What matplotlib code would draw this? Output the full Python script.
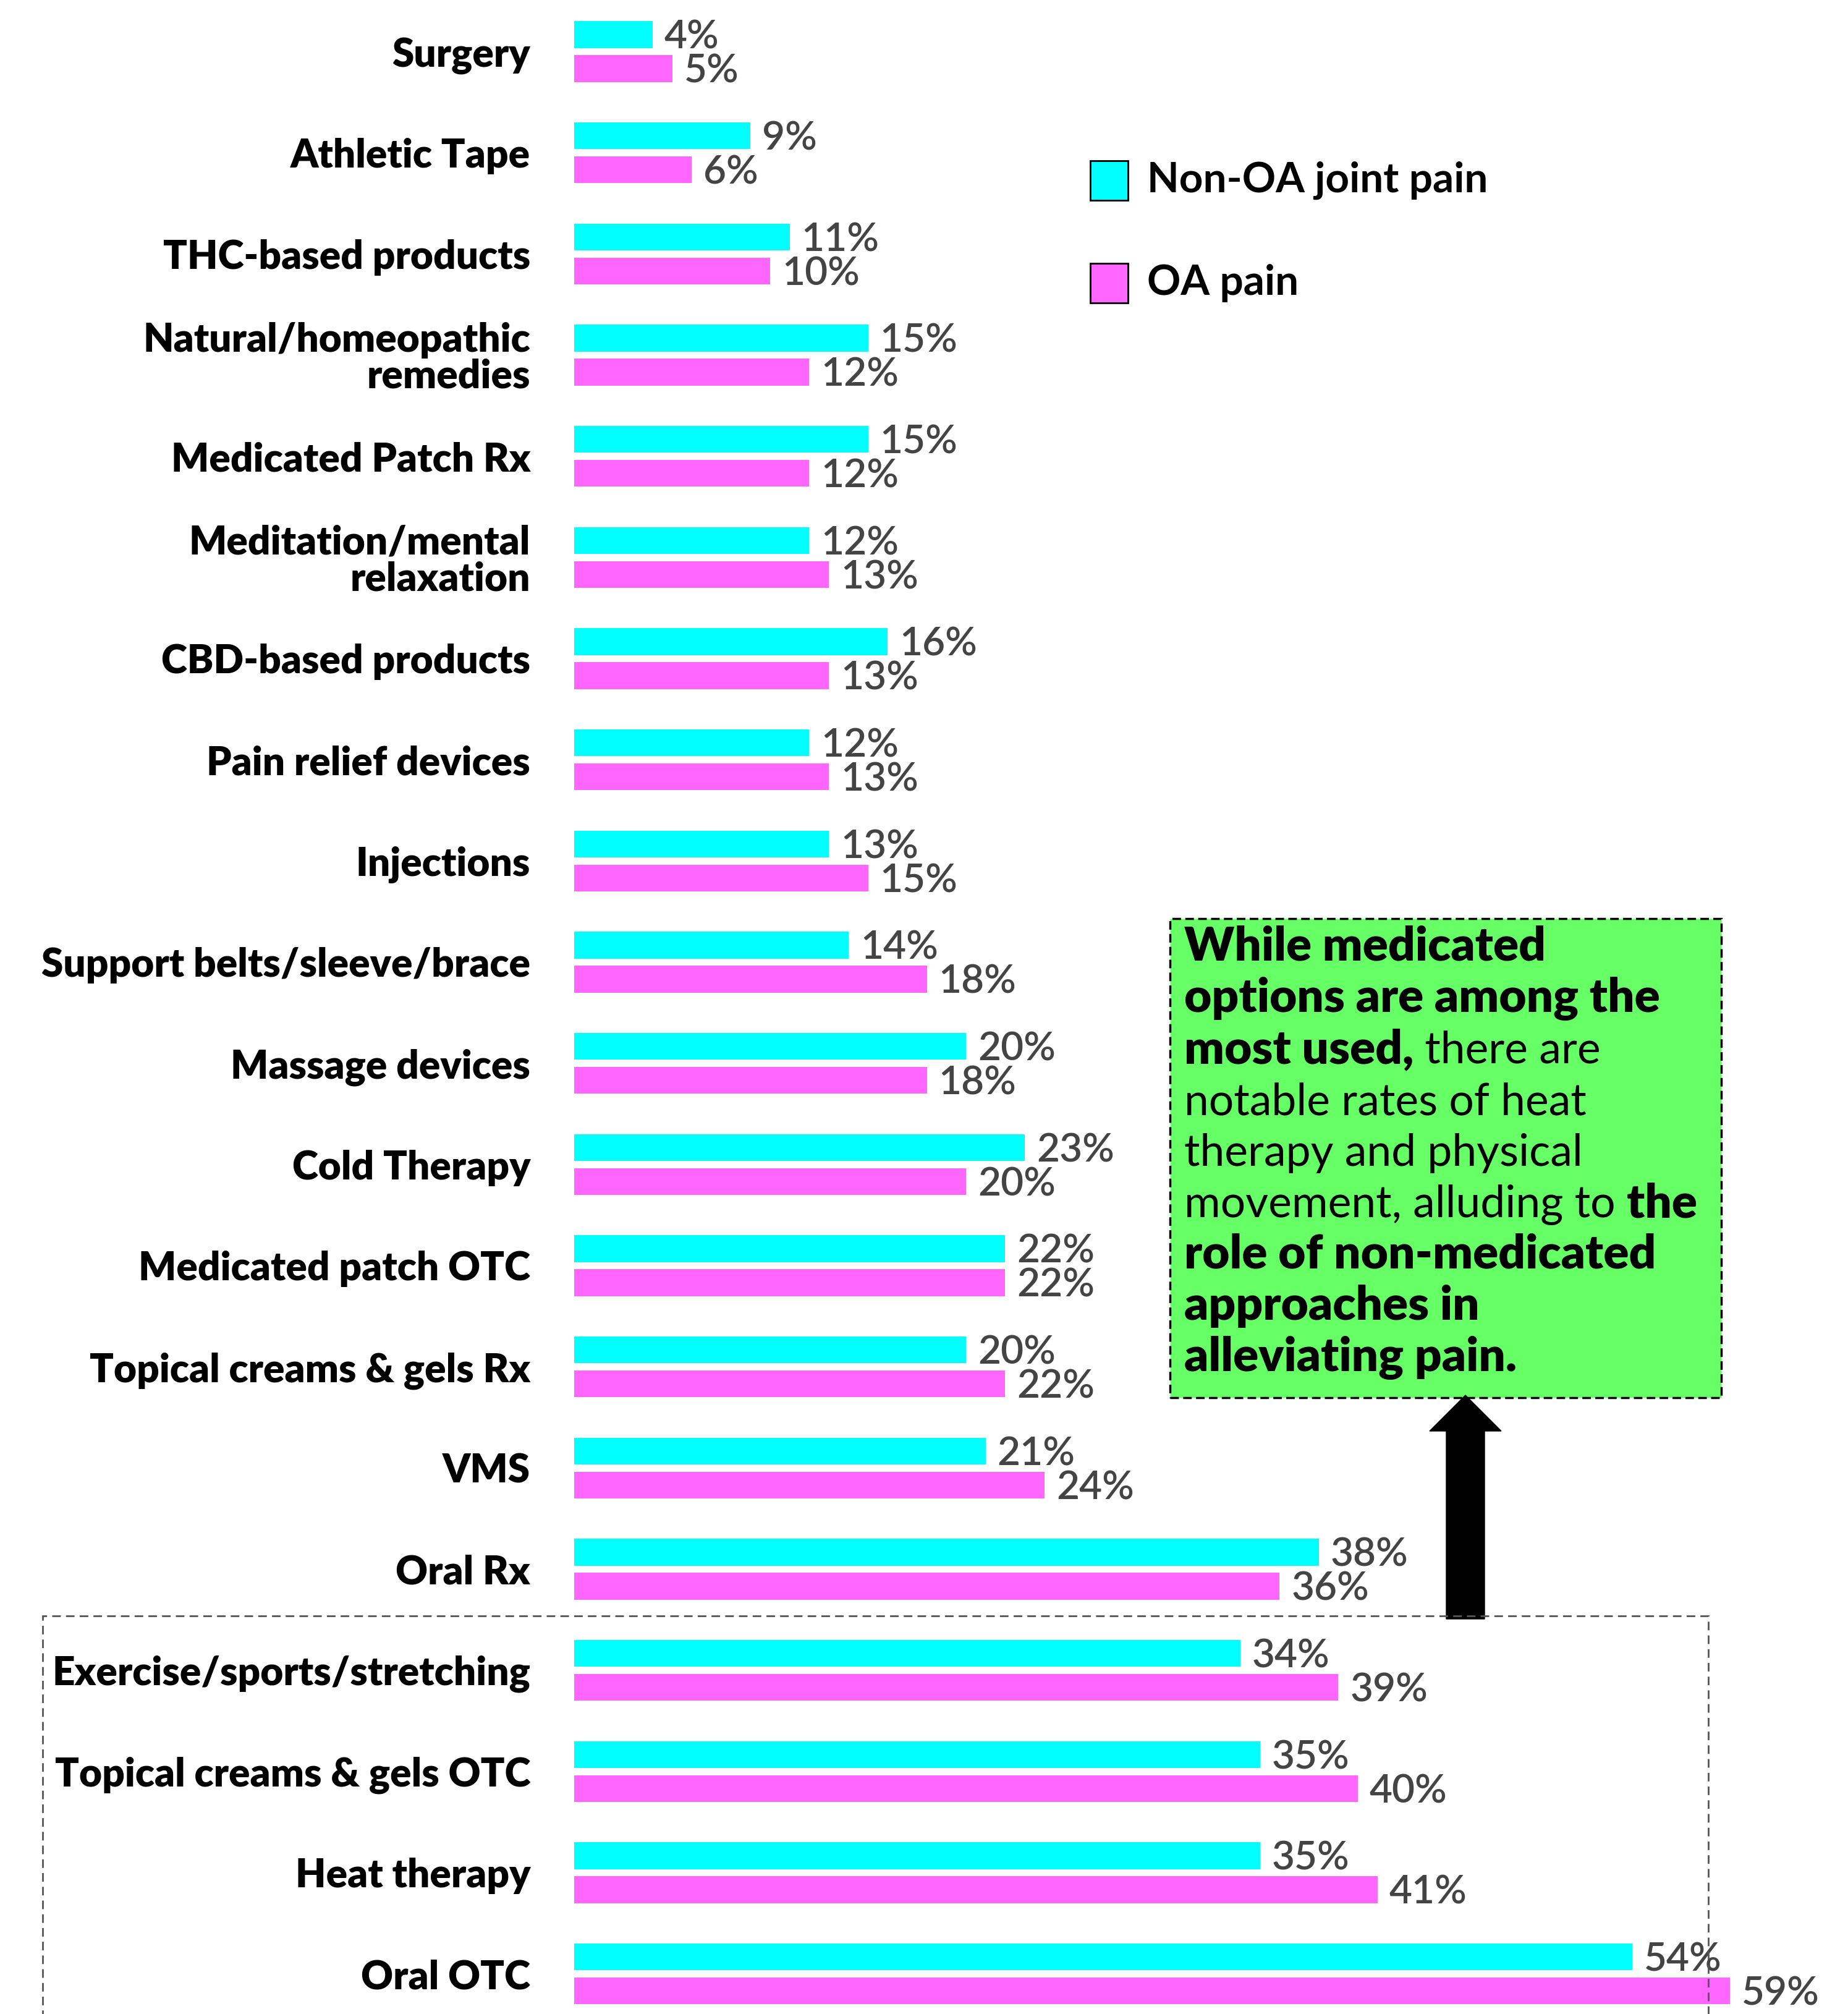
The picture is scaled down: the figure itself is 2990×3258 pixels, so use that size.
import numpy as np
import matplotlib
matplotlib.use("Agg")
import matplotlib.pyplot as plt
from matplotlib.patches import Rectangle, FancyArrow

# data (top to bottom)
categories = ["Surgery", "Athletic Tape", "THC-based products",
              "Natural/homeopathic\nremedies", "Medicated Patch Rx",
              "Meditation/mental\nrelaxation", "CBD-based products",
              "Pain relief devices", "Injections", "Support belts/sleeve/brace",
              "Massage devices", "Cold Therapy", "Medicated patch OTC",
              "Topical creams & gels Rx", "VMS", "Oral Rx",
              "Exercise/sports/stretching", "Topical creams & gels OTC",
              "Heat therapy", "Oral OTC"]
non_oa = [4, 9, 11, 15, 15, 12, 16, 12, 13, 14, 20, 23, 22, 20, 21, 38, 34, 35, 35, 54]
oa = [5, 6, 10, 12, 12, 13, 13, 13, 15, 18, 18, 20, 22, 22, 24, 36, 39, 40, 41, 59]
series_names = ["Non-OA joint pain", "OA pain"]

CYAN = "#00FFFF"
PINK = "#FF66FF"
GREEN = "#66FF66"
FONT = "Lato"

W, H = 2990, 3258
fig = plt.figure(figsize=(W / 100, H / 100), dpi=100)
plt.rcParams['font.family'] = [FONT, 'DejaVu Sans']

left_px = 929
ax = fig.add_axes([left_px / W, 0, (W - left_px) / W, 1])
px_per_pct = 31.7
ax.set_xlim(0, (W - left_px) / px_per_pct)
pitch = 163.66
ax.set_ylim((H - 83.5) / pitch, -83.5 / pitch)

y = np.arange(len(categories))
off = 0.168
bh = 0.265
ax.barh(y - off, non_oa, height=bh, color=CYAN)
ax.barh(y + off, oa, height=bh, color=PINK)

gap = 0.6
for yi, v in zip(y - off, non_oa):
    ax.text(v + gap, yi + 0.03, f"{v}%", va="center", ha="left",
            fontsize=46, fontweight="semibold", color="#444444", family=FONT)
for yi, v in zip(y + off, oa):
    ax.text(v + gap, yi + 0.03, f"{v}%", va="center", ha="left",
            fontsize=46, fontweight="semibold", color="#444444", family=FONT)

ax.set_yticks(y)
ax.set_yticklabels(categories, fontsize=46, fontweight="heavy", family=FONT,
                   linespacing=1.0)
ax.tick_params(axis="y", length=0, pad=51)
ax.set_xticks([])
for s in ax.spines.values():
    s.set_visible(False)

tr = fig.dpi_scale_trans


def inch(xp, yp):
    return xp / 100, (H - yp) / 100


# legend
for yp, col, name in [(292, CYAN, series_names[0]), (458, PINK, series_names[1])]:
    x0, y0 = inch(1764, yp + 32)
    fig.add_artist(Rectangle((x0, y0), 0.61, 0.64, transform=tr,
                             facecolor=col, edgecolor="black", linewidth=2))
    tx, ty = inch(1856, yp)
    fig.text(tx, ty, name, transform=tr, va="center", ha="left",
             fontsize=48.5, fontweight="bold", family=FONT)

# green annotation box
bx0, by0 = inch(1893, 2261)
fig.add_artist(Rectangle((bx0, by0), (2785 - 1893) / 100, (2261 - 1486) / 100,
                         transform=tr, facecolor=GREEN, edgecolor="black",
                         linewidth=2.5, linestyle=(0, (4, 2))))

lines = [
    [("While medicated", "heavy")],
    [("options are among the", "heavy")],
    [("most used,", "heavy"), (" there are", "normal")],
    [("notable rates of heat", "normal")],
    [("therapy and physical", "normal")],
    [("movement, alluding to ", "normal"), ("the", "heavy")],
    [("role of non-medicated", "heavy")],
    [("approaches in", "heavy")],
    [("alleviating pain.", "heavy")],
]
size = {"heavy": 55, "normal": 51.5}
renderer = fig.canvas.get_renderer()
for i, parts in enumerate(lines):
    xp = 1916
    yp = 1534 + 83 * i + 20
    for txt, wt in parts:
        tx, ty = inch(xp, yp)
        t = fig.text(tx, ty, txt, transform=tr, va="baseline", ha="left",
                     fontsize=size[wt], fontweight=wt, family=FONT)
        bb = t.get_window_extent(renderer)
        xp = bb.x1

# arrow
ax0, ay0 = inch(2371, 2619)
fig.add_artist(FancyArrow(ax0, ay0, 0, (2619 - 2257) / 100, width=0.62,
                          head_width=1.16, head_length=0.58,
                          length_includes_head=True, transform=tr,
                          color="black"))

# dashed highlight box around bottom rows
rx0, ry0 = inch(69, H + 50)
fig.add_artist(Rectangle((rx0, ry0), (2764 - 69) / 100, (H + 50 - 2614) / 100,
                         transform=tr, facecolor="none", edgecolor="#555555",
                         linewidth=2, linestyle=(0, (5, 3))))

fig.savefig("out.png", dpi=100)
